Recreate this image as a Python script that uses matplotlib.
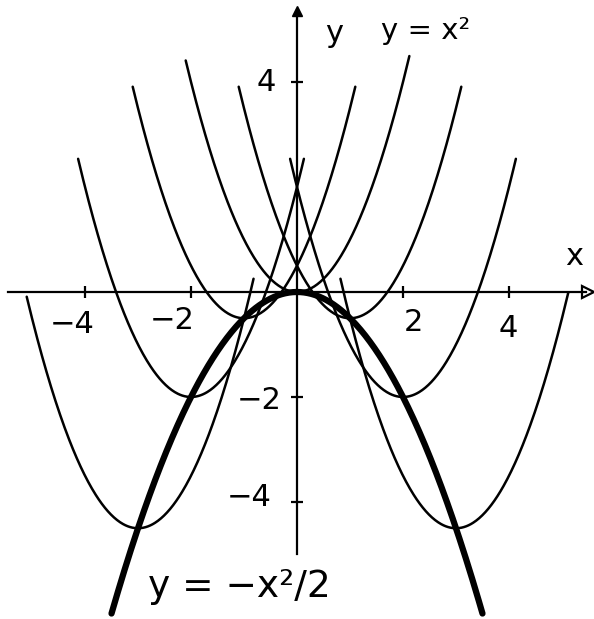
import numpy as np
import matplotlib
matplotlib.use("Agg")
import matplotlib.pyplot as plt

# family of parabolas y = (x - a)^2 - a^2/2, vertex on y = -x^2/2
shifts = [-3, -2, -1, 0, 1, 2, 3]
x_from = [-5.1, -4.13, -3.1, -2.1, -1.1, -0.13, 0.82]
x_to = [-0.82, 0.13, 1.1, 2.12, 3.1, 4.13, 5.12]

# vertex curve y = -x^2/2
env_from, env_to = -3.5, 3.5

xticks = [-4, -2, 2, 4]
yticks = [4, -2, -4]
xtick_labels = ["\u22124", "\u22122", "2", "4"]
ytick_labels = ["4", "\u22122", "\u22124"]

fig = plt.figure(figsize=(5.94, 6.19), dpi=100)
ax = fig.add_axes([0, 0, 1, 1])
ax.set_xlim(-5.604, 5.604)
ax.set_ylim(-6.229, 5.562)

# axes through the origin
for s in ["top", "right"]:
    ax.spines[s].set_visible(False)
ax.spines["bottom"].set_position(("data", 0))
ax.spines["left"].set_position(("data", 0))
ax.spines["bottom"].set_bounds(-5.45, 5.45)
ax.spines["left"].set_bounds(-5.0, 5.3)
ax.spines["bottom"].set_linewidth(1.6)
ax.spines["left"].set_linewidth(1.6)
ax.set_xticks(xticks)
ax.set_yticks(yticks)
ax.tick_params(direction="inout", length=9, width=1.6, labelbottom=False, labelleft=False)
ax.plot(5.5, 0, marker=">", ms=9, mfc="white", mec="black", mew=1.6, clip_on=False)
ax.plot(0, 5.35, marker="^", ms=7, color="black", clip_on=False)

for a, x0, x1 in zip(shifts, x_from, x_to):
    x = np.linspace(x0, x1, 300)
    ax.plot(x, (x - a) ** 2 - a ** 2 / 2, color="black", lw=1.8, solid_capstyle="round")

xe = np.linspace(env_from, env_to, 400)
ax.plot(xe, -xe ** 2 / 2, color="black", lw=4.5, solid_capstyle="round")

# hand placed labels
fs = 22
x_off = [(-0.25, -0.62), (-0.36, -0.55), (0.2, -0.58), (-0.02, -0.7)]
for t, lab, (dx, dy) in zip(xticks, xtick_labels, x_off):
    ax.text(t + dx, dy, lab, fontsize=fs, ha="center", va="center")
y_off = [(-0.58, 0.0), (-0.72, -0.07), (-0.9, 0.08)]
for t, lab, (dx, dy) in zip(yticks, ytick_labels, y_off):
    ax.text(dx, t + dy, lab, fontsize=fs, ha="center", va="center")

ax.text(0.7, 4.93, "y", fontsize=fs, ha="center", va="center")
ax.text(5.22, 0.68, "x", fontsize=fs, ha="center", va="center")
ax.text(2.42, 4.98, "y = x\u00b2", fontsize=21, ha="center", va="center")
ax.text(-1.08, -5.62, "y = \u2212x\u00b2/2", fontsize=27, ha="center", va="center")

fig.savefig("out.png", dpi=100)
